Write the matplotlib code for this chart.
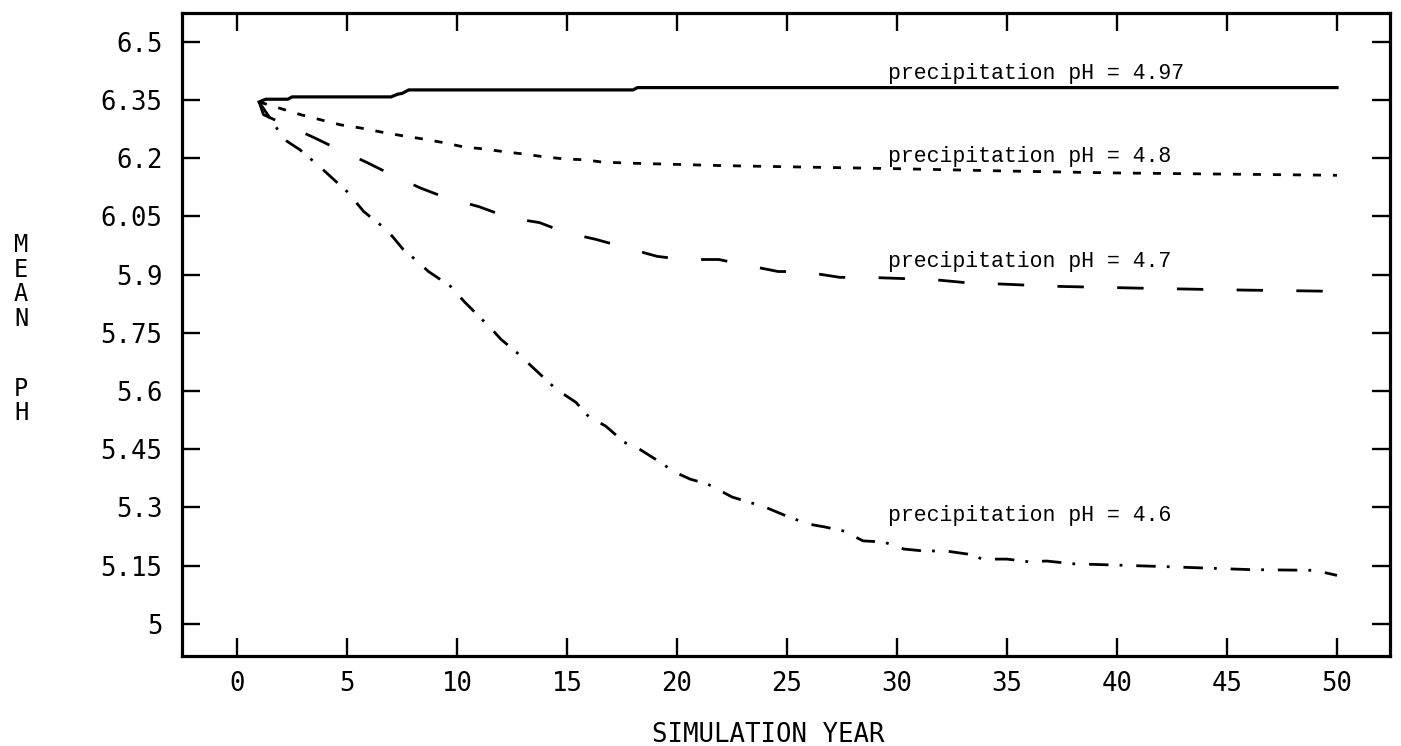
import matplotlib
matplotlib.use("Agg")
import matplotlib.pyplot as plt

# ---- data ----
x_497 = [1.0, 1.3, 2.3, 2.5, 7.0, 7.3, 7.5, 7.8, 18.0, 18.2, 50.0]
y_497 = [6.345, 6.352, 6.352, 6.358, 6.358, 6.365, 6.367, 6.376, 6.376, 6.382, 6.382]

x_48 = [1.0, 2.9, 3.8, 4.7, 5.6, 6.5, 7.5, 8.4, 9.4, 10.3, 11.2, 12.1, 13.0, 13.9,
        14.9, 15.8, 16.6, 18.0, 20.0, 22.0, 25.0, 28.0, 30.0, 35.0, 40.0, 45.0, 50.0]
y_48 = [6.345, 6.312, 6.299, 6.286, 6.278, 6.268, 6.258, 6.250, 6.240, 6.229, 6.224,
        6.217, 6.211, 6.204, 6.198, 6.196, 6.190, 6.187, 6.184, 6.181, 6.178, 6.175,
        6.173, 6.167, 6.162, 6.159, 6.156]

x_47 = [1.0, 1.2, 3.5, 4.45, 5.9, 7.0, 8.3, 9.45, 11.0, 12.35, 13.75, 14.9, 16.3,
        19.1, 20.3, 21.9, 23.0, 24.6, 25.7, 27.4, 28.7, 30.2, 31.5, 33.0, 37.1, 42.0, 46.0, 50.0]
y_47 = [6.345, 6.312, 6.253, 6.227, 6.189, 6.158, 6.124, 6.099, 6.075, 6.047, 6.034,
        6.009, 5.991, 5.947, 5.939, 5.939, 5.926, 5.908, 5.908, 5.893, 5.893, 5.890,
        5.888, 5.880, 5.870, 5.864, 5.860, 5.857]

x_46 = [1.0, 2.15, 2.85, 3.8, 4.3, 5.0, 5.75, 6.2, 6.8, 7.55, 8.1, 8.7, 9.7, 10.35,
        11.5, 12.0, 12.7, 14.5, 15.4, 16.0, 16.75, 17.6, 18.3, 19.0, 19.9, 20.6, 21.4,
        22.5, 23.25, 24.0, 25.1, 26.0, 26.7, 27.6, 28.45, 29.4, 30.3, 31.2, 32.2, 33.2,
        33.9, 35.0, 36.0, 36.8, 38.0, 42.0, 46.0, 49.0, 50.0]
y_46 = [6.345, 6.248, 6.222, 6.176, 6.150, 6.114, 6.063, 6.042, 6.016, 5.965, 5.939,
        5.908, 5.870, 5.829, 5.764, 5.733, 5.700, 5.605, 5.571, 5.533, 5.510, 5.468,
        5.450, 5.425, 5.391, 5.373, 5.360, 5.327, 5.314, 5.301, 5.275, 5.257, 5.250,
        5.239, 5.214, 5.211, 5.193, 5.188, 5.188, 5.180, 5.167, 5.167, 5.160, 5.162,
        5.155, 5.148, 5.140, 5.138, 5.125]

series_labels = ["precipitation pH = 4.97", "precipitation pH = 4.8",
                 "precipitation pH = 4.7", "precipitation pH = 4.6"]
label_x = [29.6, 29.6, 29.6, 29.6]
label_y = [6.403, 6.189, 5.920, 5.265]

x_ticks = [0, 5, 10, 15, 20, 25, 30, 35, 40, 45, 50]
y_ticks = [5.0, 5.15, 5.3, 5.45, 5.6, 5.75, 5.9, 6.05, 6.2, 6.35, 6.5]
y_ticklabels = ["5", "5.15", "5.3", "5.45", "5.6", "5.75", "5.9", "6.05", "6.2", "6.35", "6.5"]

# ---- figure ----
plt.rcParams['lines.scale_dashes'] = False
fig = plt.figure(figsize=(14.01, 7.46), dpi=100)
ax = fig.add_axes([0.130, 0.121, 0.862, 0.862])

lw = 2.0
ax.plot(x_497, y_497, color='black', lw=2.3, linestyle='-')
ax.plot(x_48, y_48, color='black', lw=lw, linestyle=(0, (5.8, 8.6)))
ax.plot(x_47, y_47, color='black', lw=lw, linestyle=(0, (19, 24)))
ax.plot(x_46, y_46, color='black', lw=lw, linestyle=(0, (14, 8, 2, 10)))

for t, lx, ly in zip(series_labels, label_x, label_y):
    ax.text(lx, ly, t, fontsize=15.5, family='Liberation Mono', va='baseline', ha='left')

ax.set_xlim(-2.5, 52.4)
ax.set_ylim(4.918, 6.575)
ax.set_xticks(x_ticks)
ax.set_xticklabels([str(v) for v in x_ticks])
ax.set_yticks(y_ticks)
ax.set_yticklabels(y_ticklabels)

for s in ax.spines.values():
    s.set_linewidth(2.3)
ax.tick_params(direction='in', length=13, width=1.7, top=True, right=True,
               labeltop=False, labelright=False)
ax.tick_params(axis='y', pad=14)
ax.tick_params(axis='x', pad=11)
for lab in ax.get_xticklabels() + ax.get_yticklabels():
    lab.set_family('DejaVu Sans Mono')
    lab.set_fontsize(18.5)

fig.text(768 / 1401, 1 - 735 / 746, "SIMULATION YEAR", family='DejaVu Sans Mono',
         fontsize=18.5, ha='center', va='center')
fig.text(21 / 1401, 1 - 282 / 746, "M\nE\nA\nN", family='DejaVu Sans Mono',
         fontsize=17, ha='center', va='center', linespacing=1.05)
fig.text(21 / 1401, 1 - 401 / 746, "P\nH", family='DejaVu Sans Mono',
         fontsize=17, ha='center', va='center', linespacing=1.05)

fig.savefig("out.png", dpi=100)
